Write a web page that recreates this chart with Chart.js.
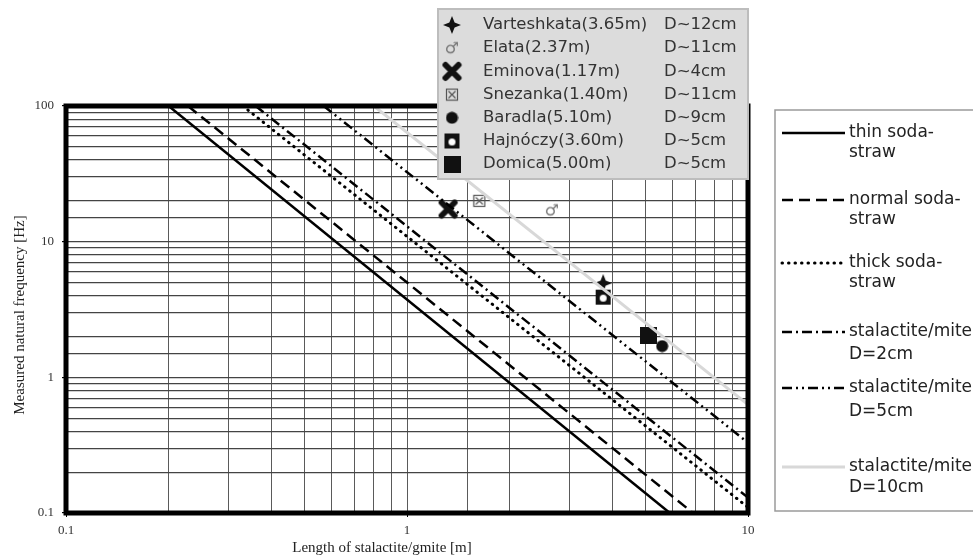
<!DOCTYPE html>
<html>
<head>
<meta charset="utf-8">
<script src="https://cdn.jsdelivr.net/npm/chart.js@4.4.1/dist/chart.umd.min.js"></script>
<style>
  html, body { margin: 0; padding: 0; background: #fff; }
  #wrap { width: 973px; height: 559px; }
</style>
</head>
<body>
<div id="wrap"><canvas id="freqChart" width="973" height="559"></canvas></div>
<script>
// Model lines, read where they meet the frame (length m, frequency Hz)
const lineLabels = [
  ['thin soda-', 'straw'],
  ['normal soda-', 'straw'],
  ['thick soda-', 'straw'],
  ['stalactite/mite', 'D=2cm'],
  ['stalactite/mite', 'D=5cm'],
  ['stalactite/mite', 'D=10cm']
];
const lineStartL = [0.2, 0.228, 0.33, 0.36, 0.57, 0.8];
const lineStartF = [100, 100, 100, 100, 100, 100];
const lineEndL = [5.9, 6.9, 10, 10, 10, 10];
const lineEndF = [0.1, 0.1, 0.11, 0.13, 0.33, 0.63];

// Measured caves
const siteNames = ['Varteshkata(3.65m)', 'Elata(2.37m)', 'Eminova(1.17m)', 'Snezanka(1.40m)',
  'Baradla(5.10m)', 'Hajnóczy(3.60m)', 'Domica(5.00m)'];
const siteDiam = ['D~12cm', 'D~11cm', 'D~4cm', 'D~11cm', 'D~9cm', 'D~5cm', 'D~5cm'];
const siteL = [3.76, 2.66, 1.32, 1.63, 5.6, 3.76, 5.1];
const siteF = [4.95, 17, 17.4, 20, 1.7, 3.9, 2.05];

const xTicksMajor = [0.1, 1, 10];
const yTicksMajor = [0.1, 1, 10, 100];
const xTitle = 'Length of stalactite/gmite [m]';
const yTitle = 'Measured natural frequency [Hz]';

// line looks
const lineColors = ['#000', '#000', '#000', '#000', '#000', '#d8d8d8'];
const lineDash = [[], [11, 6], [0.5, 6], [10, 4, 2, 4], [10, 4, 2, 4, 2, 4], []];
const lineCaps = ['butt', 'butt', 'round', 'butt', 'butt', 'butt'];
const lineWidths = [2.5, 2.5, 3, 2.5, 2.5, 3];

// marker images
function makeMarker(kind) {
  const s = {star: 18, mars: 18, cross: 21, boxx: 14, dot: 13, hole: 17, square: 17}[kind];
  const c = document.createElement('canvas');
  c.width = s; c.height = s;
  const g = c.getContext('2d');
  const m = s / 2;
  g.fillStyle = '#111'; g.strokeStyle = '#111';
  if (kind === 'star') {
    g.beginPath();
    g.moveTo(m, 0); g.lineTo(m + 2.6, m - 2.6); g.lineTo(s, m); g.lineTo(m + 2.6, m + 2.6);
    g.lineTo(m, s); g.lineTo(m - 2.6, m + 2.6); g.lineTo(0, m); g.lineTo(m - 2.6, m - 2.6);
    g.closePath(); g.fill();
  } else if (kind === 'mars') {
    g.fillStyle = '#777';
    g.font = '16px "DejaVu Sans"';
    g.textAlign = 'center'; g.textBaseline = 'middle';
    g.fillText('\u2642', m, m + 1);
  } else if (kind === 'cross') {
    g.lineWidth = 6; g.lineCap = 'round';
    g.beginPath();
    g.moveTo(4, 4); g.lineTo(s - 4, s - 4);
    g.moveTo(s - 4, 4); g.lineTo(4, s - 4);
    g.stroke();
  } else if (kind === 'boxx') {
    g.strokeStyle = '#555'; g.lineWidth = 1.2;
    g.strokeRect(1.5, 1.5, s - 3, s - 3);
    g.beginPath();
    g.moveTo(3.5, 3.5); g.lineTo(s - 3.5, s - 3.5);
    g.moveTo(s - 3.5, 3.5); g.lineTo(3.5, s - 3.5);
    g.stroke();
  } else if (kind === 'dot') {
    g.beginPath(); g.arc(m, m, m - 0.5, 0, Math.PI * 2); g.fill();
  } else if (kind === 'hole') {
    g.fillRect(1, 1, s - 2, s - 2);
    g.fillStyle = '#fff';
    g.beginPath(); g.arc(m, m + 1, 3.5, 0, Math.PI * 2); g.fill();
  } else {
    g.fillRect(0, 0, s, s);
  }
  return c;
}
const siteMarkers = ['star', 'mars', 'cross', 'boxx', 'dot', 'hole', 'square'].map(makeMarker);

const datasets = lineLabels.map((lab, i) => ({
  type: 'line',
  label: lab.join(' '),
  data: [{x: lineStartL[i], y: lineStartF[i]}, {x: lineEndL[i], y: lineEndF[i]}],
  borderColor: lineColors[i],
  borderWidth: lineWidths[i],
  borderDash: lineDash[i],
  borderCapStyle: lineCaps[i],
  pointRadius: 0,
  fill: false
}));
datasets.push({
  type: 'scatter',
  label: 'caves',
  data: siteL.map((l, i) => ({x: l, y: siteF[i]})),
  pointStyle: siteMarkers,
  pointRadius: 8
});

const isPow10 = v => Math.abs(Math.log10(v) - Math.round(Math.log10(v))) < 1e-6;

const frameAndLegends = {
  id: 'frameAndLegends',
  afterDatasetsDraw(chart) {
    const ctx = chart.ctx, a = chart.chartArea;
    ctx.save();
    ctx.lineWidth = 5; ctx.strokeStyle = '#000';
    ctx.strokeRect(a.left, a.top, a.right - a.left, a.bottom - a.top);

    // axis titles
    ctx.fillStyle = '#222';
    ctx.font = '15px "Liberation Serif"';
    ctx.textAlign = 'center'; ctx.textBaseline = 'middle';
    ctx.fillText(xTitle, 382, 548);
    ctx.save();
    ctx.translate(20, 315); ctx.rotate(-Math.PI / 2);
    ctx.fillText(yTitle, 0, 0);
    ctx.restore();

    // cave legend
    ctx.fillStyle = '#dcdcdc';
    ctx.fillRect(438, 9, 310, 170);
    ctx.strokeStyle = '#bdbdbd'; ctx.lineWidth = 2;
    ctx.strokeRect(438, 9, 310, 170);
    ctx.fillStyle = '#333';
    ctx.font = '16.5px "DejaVu Sans"';
    ctx.textAlign = 'left';
    siteNames.forEach((name, i) => {
      const y = 25 + i * 23.2;
      const mk = siteMarkers[i];
      ctx.drawImage(mk, 452 - mk.width / 2, y - mk.height / 2);
      ctx.fillText(name, 483, y);
      ctx.fillText(siteDiam[i], 664, y);
    });

    // line legend
    ctx.fillStyle = '#fff';
    ctx.fillRect(775, 110, 220, 401);
    ctx.strokeStyle = '#9a9a9a'; ctx.lineWidth = 1.5;
    ctx.strokeRect(775, 110, 220, 401);
    const rowY = [133, 200, 263, 332, 388, 467];
    const rowY2 = [153, 220, 283, 355, 412, 488];
    ctx.font = '17px "DejaVu Sans"';
    lineLabels.forEach((lab, i) => {
      const ds = chart.data.datasets[i];
      ctx.save();
      ctx.strokeStyle = ds.borderColor; ctx.lineWidth = ds.borderWidth;
      ctx.setLineDash(ds.borderDash); ctx.lineCap = ds.borderCapStyle;
      ctx.beginPath(); ctx.moveTo(782, rowY[i]); ctx.lineTo(845, rowY[i]); ctx.stroke();
      ctx.restore();
      ctx.fillStyle = '#222';
      ctx.fillText(lab[0], 849, rowY[i]);
      ctx.fillText(lab[1], 849, rowY2[i]);
    });
    ctx.restore();
  }
};

new Chart(document.getElementById('freqChart'), {
  data: { datasets: datasets },
  options: {
    responsive: false,
    animation: false,
    layout: { padding: { left: 0, top: 106, right: 225, bottom: 0 } },
    plugins: { legend: { display: false }, tooltip: { enabled: false } },
    scales: {
      x: {
        type: 'logarithmic',
        min: 0.1, max: 10,
        afterFit: s => { s.height = 46; },
        grid: {
          color: '#5a5a5a', lineWidth: 1, tickLength: 4,
          tickColor: c => isPow10(c.tick.value) ? '#000' : 'rgba(0,0,0,0)'
        },
        border: { display: false },
        ticks: {
          autoSkip: false, maxRotation: 0, padding: 6,
          color: '#333', font: { family: 'Liberation Serif', size: 13 },
          callback: v => xTicksMajor.some(t => Math.abs(t - v) < 1e-9) ? String(v) : ''
        }
      },
      y: {
        type: 'logarithmic',
        min: 0.1, max: 100,
        afterFit: s => { s.width = 66; },
        grid: {
          color: '#444', lineWidth: 1.2, tickLength: 4,
          tickColor: c => isPow10(c.tick.value) ? '#000' : 'rgba(0,0,0,0)'
        },
        border: { display: false },
        ticks: {
          autoSkip: false, padding: 8,
          color: '#333', font: { family: 'Liberation Serif', size: 13 },
          callback: v => yTicksMajor.some(t => Math.abs(t - v) < 1e-9) ? String(v) : ''
        }
      }
    }
  },
  plugins: [frameAndLegends]
});
</script>
</body>
</html>
